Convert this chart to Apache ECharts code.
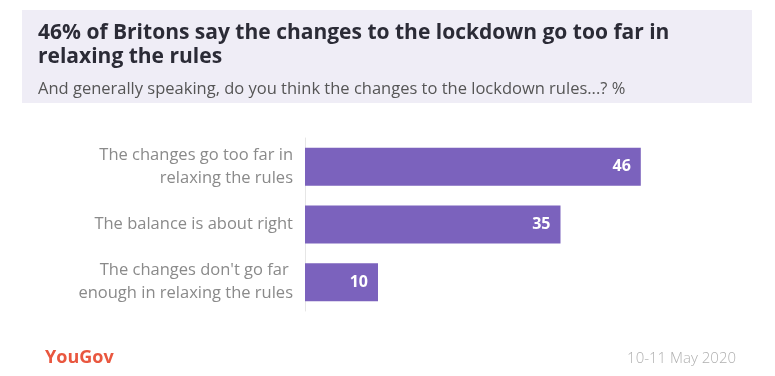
<!DOCTYPE html>
<html><head><meta charset="utf-8">
<script src="https://cdn.jsdelivr.net/npm/echarts@6/dist/echarts.min.js"></script>
<style>html,body{margin:0;padding:0;background:#fff}#c{width:775px;height:376px}</style>
</head><body><div id="c"></div>
<script>
const categories = ["The changes go too far in\nrelaxing the rules", "The balance is about right", "The changes don't go far \nenough in relaxing the rules"];
const values = [46, 35, 10];
const titleText = "46% of Britons say the changes to the lockdown go too far in\nrelaxing the rules";
const subtitleText = "And generally speaking, do you think the changes to the lockdown rules...? %";
const sourceText = "YouGov";
const dateText = "10-11 May 2020";

const chart = echarts.init(document.getElementById('c'));
chart.setOption({
  animation: false,
  backgroundColor: '#ffffff',
  graphic: [
    { type: 'rect', shape: { x: 22, y: 10, width: 730, height: 93 }, style: { fill: '#efedf6' }, silent: true }
  ],
  title: [
    { text: titleText, left: 33, top: 16, textStyle: { fontFamily: 'Open Sans', fontWeight: 'bold', fontSize: 21, color: '#2b2b36', lineHeight: 24 } },
    { text: subtitleText, left: 33, top: 76, textStyle: { fontFamily: 'Open Sans', fontWeight: 'normal', fontSize: 16.5, color: '#555' } },
    { text: sourceText, left: 40, top: 344, textStyle: { fontFamily: 'Open Sans', fontWeight: 'bold', fontSize: 18, color: '#e9573f' } },
    { text: dateText, right: 34, top: 346, textStyle: { fontFamily: 'Open Sans', fontWeight: 300, fontSize: 15, color: '#b0b0b0' } }
  ],
  grid: { left: 305, right: 32, top: 138, bottom: 65 },
  xAxis: { type: 'value', min: 0, max: 60, show: false },
  yAxis: {
    type: 'category', data: categories, inverse: true,
    axisLine: { show: true, lineStyle: { color: '#e6e6e6', width: 1 } },
    axisTick: { show: false },
    axisLabel: { margin: 12, color: '#8a8a8a', fontFamily: 'Open Sans', fontSize: 16.5, lineHeight: 23, align: 'right' }
  },
  series: [{
    type: 'bar', data: values, barWidth: 38,
    itemStyle: { color: '#7b62bd' },
    label: { show: true, position: 'insideRight', distance: 10, color: '#fff', fontFamily: 'Open Sans', fontWeight: 'bold', fontSize: 16 }
  }]
});
</script></body></html>
